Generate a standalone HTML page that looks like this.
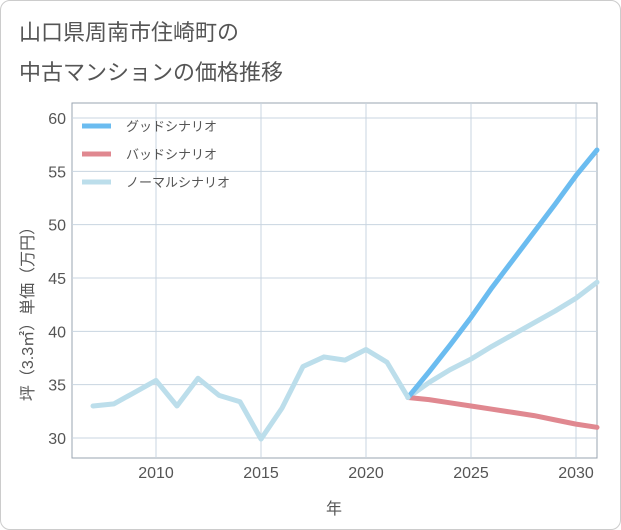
<!DOCTYPE html>
<html><head><meta charset="utf-8"><style>
body{margin:0;background:#fff;font-family:"Liberation Sans","Noto Sans CJK JP",sans-serif;}
#wrap{position:relative;width:619px;height:528px;border:1px solid #ccc;border-radius:10px;background:#fff;}
.title{position:absolute;left:18px;font-size:22px;color:#555;}
</style></head><body>
<div id="wrap">
<div class="title" style="top:14px">山口県周南市住崎町の</div>
<div class="title" style="top:54px">中古マンションの価格推移</div>
<svg id="chart" width="621" height="530" style="position:absolute;left:-1px;top:-1px"></svg>
</div>
<script>
const histYears=[2007,2008,2009,2010,2011,2012,2013,2014,2015,2016,2017,2018,2019,2020,2021,2022];
const histVals=[33.0,33.2,34.3,35.4,33.0,35.6,34.0,33.4,29.9,32.8,36.7,37.6,37.3,38.3,37.1,33.8];
const futYears=[2022,2023,2024,2025,2026,2027,2028,2029,2030,2031];
const goodVals=[33.8,36.2,38.7,41.3,44.1,46.7,49.3,51.9,54.6,57.0];
const badVals=[33.8,33.6,33.3,33.0,32.7,32.4,32.1,31.7,31.3,31.0];
const normalVals=[33.8,35.2,36.4,37.4,38.6,39.7,40.8,41.9,43.1,44.6];
const xTicks=[2010,2015,2020,2025,2030];
const yTicks=[30,35,40,45,50,55,60];
const ns="http://www.w3.org/2000/svg",svg=document.getElementById('chart');
const L=72,R=597,T=103,B=458;
const x=v=>156+(v-2010)*21;
const y=v=>438-(v-30)*(320/30);
function mk(t,a,p){const e=document.createElementNS(ns,t);for(const k in a)e.setAttribute(k,a[k]);(p||svg).appendChild(e);return e;}
const bg=mk('rect',{x:L,y:T,width:R-L,height:B-T,fill:'#fff',stroke:'#9aa4b0'});


xTicks.forEach(t=>{const g=mk('line',{x1:x(t),x2:x(t),y1:T,y2:B,stroke:'#c8d4e0'});

});
yTicks.forEach(t=>{const g=mk('line',{x1:L,x2:R,y1:y(t),y2:y(t),stroke:'#c8d4e0'});

});
xTicks.forEach(t=>{const e=mk('text',{x:x(t),y:478,'text-anchor':'middle','font-size':16,fill:'#555'});e.textContent=t;

});
yTicks.forEach(t=>{const e=mk('text',{x:66,y:y(t)+6,'text-anchor':'end','font-size':16,fill:'#555'});e.textContent=t;

});
const xt=mk('text',{x:334,y:514,'text-anchor':'middle','font-size':16,fill:'#555'});xt.textContent='年';


const yt=mk('text',{x:0,y:0,'text-anchor':'middle','font-size':16,fill:'#555',transform:'translate(33,310) rotate(-90)'});yt.textContent='坪（3.3㎡）単価（万円）';


function line(xs,vs,c,n){const p=mk('polyline',{points:xs.map((t,i)=>x(t)+','+y(vs[i])).join(' '),fill:'none',stroke:c,'stroke-width':5,'stroke-linejoin':'round','stroke-linecap':'round'});

}
line(futYears,normalVals,'#bcdeeb','normal-scenario-line');
line(futYears,badVals,'#e08890','bad-scenario-line');
line(futYears,goodVals,'#6bbcf0','good-scenario-line');
line(histYears,histVals,'#bcdeeb','historical-line');
const leg=[['グッドシナリオ','#6bbcf0'],['バッドシナリオ','#e08890'],['ノーマルシナリオ','#bcdeeb']];
leg.forEach((l,i)=>{const g=mk('g',{});


mk('line',{x1:82,x2:111,y1:126+i*28,y2:126+i*28,stroke:l[1],'stroke-width':5},g);
const t=mk('text',{x:126,y:131+i*28,'font-size':13,fill:'#555'},g);t.textContent=l[0];});
</script>
</body></html>
